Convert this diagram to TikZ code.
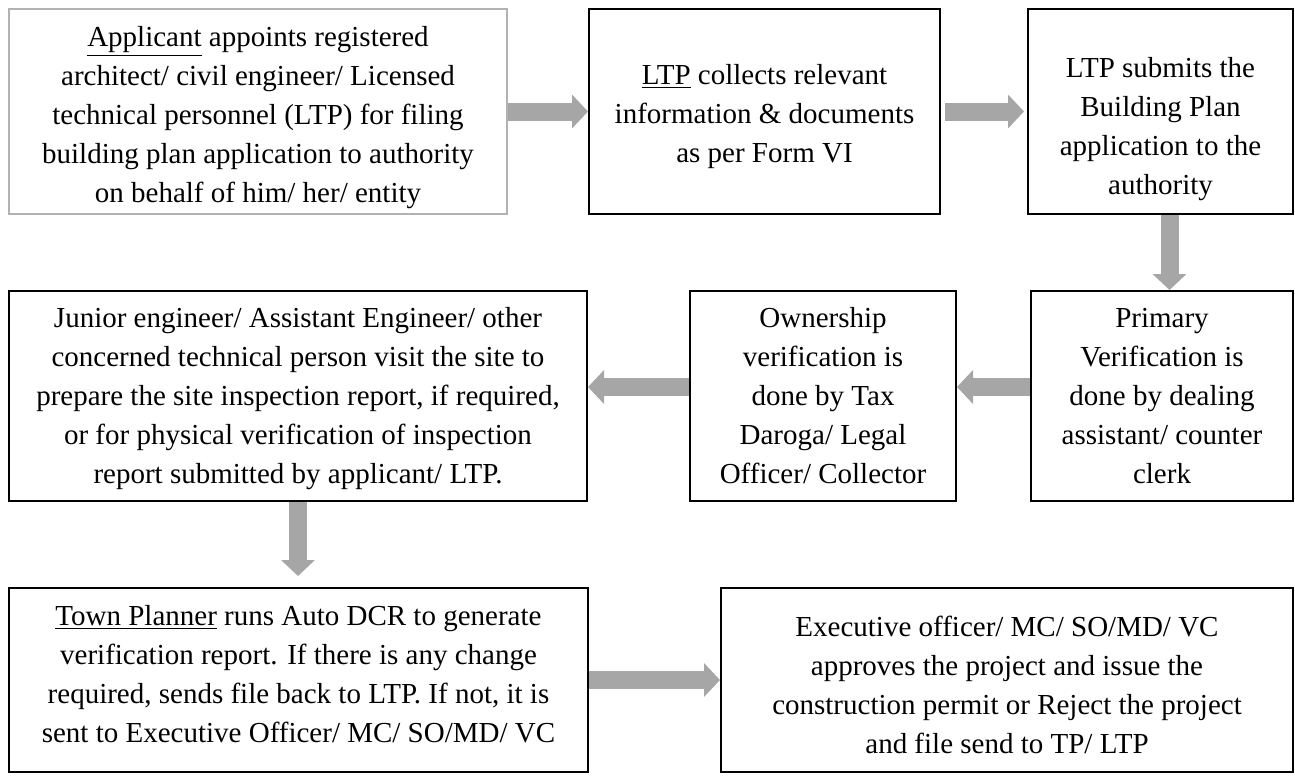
\documentclass[tikz,border=0pt]{standalone}
\usepackage{fontspec}
\setmainfont{Liberation Serif}
\usetikzlibrary{arrows.meta}

\tikzset{
  box/.style={draw, line width=1pt, align=center, inner sep=0pt,
    font=\fontsize{14.5pt}{19.5pt}\selectfont},
  flow/.style={draw=gray!70, line width=9pt, -{Triangle[length=8pt,width=16.5pt]}}
}

\begin{document}
\begin{tikzpicture}[x=0.5pt,y=-0.5pt]
    \useasboundingbox (0,0) rectangle (1295,776);

    \node [box, draw=gray!60, minimum width=249pt, minimum height=102.5pt] (apply) at (258,111.5)
      {\rule{0pt}{16pt}\underline{Applicant} appoints registered\\ architect/ civil engineer/ Licensed\\ technical personnel (LTP) for filing\\ building plan application to authority\\ on behalf of him/ her/ entity};
    \node [box, minimum width=175.5pt, minimum height=102.5pt] (collect) at (764.5,111.5)
      {\rule{0pt}{15pt}\underline{LTP} collects relevant\\ information \& documents\\ as per Form VI};
    \node [box, minimum width=132.5pt, minimum height=102.5pt] (submit) at (1160.5,111.5)
      {\rule{0pt}{28pt}LTP submits the\\ Building Plan\\ application to the\\ authority};

    \node [box, minimum width=289pt, minimum height=105pt] (site) at (298,396)
      {\rule{0pt}{13pt}Junior engineer/ Assistant Engineer/ other\\ concerned technical person visit the site to\\ prepare the site inspection report, if required,\\ or for physical verification of inspection\\ report submitted by applicant/ LTP.};
    \node [box, minimum width=133pt, minimum height=105pt] (owner) at (823,396)
      {Ownership\\ verification is\\ done by Tax\\ Daroga/ Legal\\ Officer/ Collector};
    \node [box, minimum width=131pt, minimum height=105pt] (primary) at (1162,396)
      {Primary\\ Verification is\\ done by dealing\\ assistant/ counter\\ clerk};

    \node [box, minimum width=289.5pt, minimum height=92pt] (town) at (298.5,680)
      {\underline{Town Planner} runs Auto DCR to generate\\ verification report. If there is any change\\ required, sends file back to LTP. If not, it is\\ sent to Executive Officer/ MC/ SO/MD/ VC\rule[-6.5pt]{0pt}{0pt}};
    \node [box, minimum width=286pt, minimum height=92pt] (exec) at (1007,680)
      {\rule{0pt}{15pt}Executive officer/ MC/ SO/MD/ VC\\ approves the project and issue the\\ construction permit or Reject the project\\ and file send to TP/ LTP};

    \draw [flow] (apply.east) -- (collect.west);
    \draw [flow, shorten <=2pt, shorten >=1.5pt] (collect.east) -- (submit.west);
    \draw [flow] ([xshift=4.5pt]submit.south) -- ([xshift=4.5pt]submit.south |- primary.north);
    \draw [flow] ([yshift=4.5pt]primary.west) -- ([yshift=4.5pt]owner.east);
    \draw [flow] ([yshift=4.5pt]owner.west) -- ([yshift=4.5pt]site.east);
    \draw [flow, shorten >=5.5pt] (site.south) -- (site.south |- town.north);
    \draw [flow] (town.east) -- (exec.west);
\end{tikzpicture}
\end{document}
